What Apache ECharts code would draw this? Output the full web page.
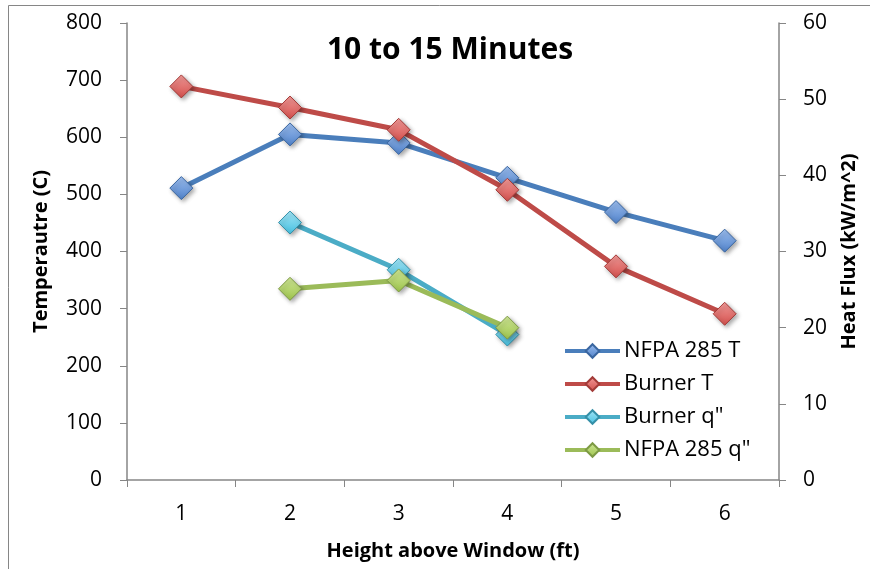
<!DOCTYPE html>
<html>
<head>
<meta charset="utf-8">
<script src="https://cdn.jsdelivr.net/npm/echarts@6/dist/echarts.min.js"></script>
<style>
  html, body { margin: 0; padding: 0; background: #fff; }
  #chart { width: 870px; height: 569px; }
</style>
</head>
<body>
<div id="chart"></div>
<script>
// Heights above the window (ft)
const heights = ['1', '2', '3', '4', '5', '6'];

// Temperatures (C), left axis
const nfpaT = [511, 605, 590, 529, 469, 419];
const burnerT = [689, 652, 613, 508, 374, 291];

// Heat flux (kW/m^2), right axis
const burnerQ = [null, 33.8, 27.6, 19.1, null, null];
const nfpaQ = [null, 25.1, 26.2, 20.0, null, null];

const FONT = '"Open Sans", "Noto Sans", sans-serif';
const AXIS_GREY = '#868686';

function grad(top, bottom) {
  return new echarts.graphic.LinearGradient(0, 0, 0, 1, [
    { offset: 0, color: top },
    { offset: 1, color: bottom }
  ]);
}

function lineSeries(name, data, yIdx, lineColor, fillTop, fillBottom, border) {
  return {
    name: name,
    type: 'line',
    yAxisIndex: yIdx,
    data: data,
    connectNulls: false,
    symbol: 'diamond',
    symbolSize: [23, 23],
    showAllSymbol: true,
    lineStyle: { color: lineColor, width: 5 },
    itemStyle: {
      color: grad(fillTop, fillBottom),
      borderColor: border,
      borderWidth: 1,
      shadowBlur: 4,
      shadowOffsetX: 2,
      shadowOffsetY: 2,
      shadowColor: 'rgba(0,0,0,0.35)'
    },
    emphasis: { disabled: true },
    animation: false
  };
}

const chart = echarts.init(document.getElementById('chart'), null, { renderer: 'canvas' });

chart.setOption({
  backgroundColor: '#fff',
  animation: false,
  title: {
    text: '10 to 15 Minutes',
    left: 445,
    top: 30,
    textAlign: 'center',
    textStyle: { fontFamily: FONT, fontWeight: 'bold', fontSize: 30, color: '#000' }
  },
  graphic: [{
    type: 'rect',
    shape: { x: 8.5, y: 5.5, width: 900, height: 600 },
    style: { fill: 'none', stroke: AXIS_GREY, lineWidth: 1 },
    silent: true
  }],
  legend: {
    orient: 'vertical',
    left: 563,
    top: 340,
    padding: 0,
    itemWidth: 55,
    itemHeight: 17,
    itemGap: 11,
    lineStyle: { width: 4 },
    textStyle: { fontFamily: FONT, fontSize: 22, color: '#000', padding: [0, 0, 0, -1] },
    data: ['NFPA 285 T', 'Burner T', 'Burner q"', 'NFPA 285 q"']
  },
  grid: { left: 127, right: 91, top: 23, bottom: 89, containLabel: false },
  xAxis: {
    type: 'category',
    data: heights,
    boundaryGap: true,
    name: 'Height above Window (ft)',
    nameLocation: 'middle',
    nameGap: 61,
    nameTextStyle: { fontFamily: FONT, fontWeight: 'bold', fontSize: 20, color: '#000' },
    axisLine: { lineStyle: { color: AXIS_GREY, width: 1.5 } },
    axisTick: { show: true, alignWithLabel: false, length: 7, lineStyle: { color: AXIS_GREY } },
    axisLabel: { fontFamily: FONT, fontSize: 21, color: '#000', margin: 24 },
    splitLine: { show: false }
  },
  yAxis: [{
    type: 'value',
    min: 0, max: 800, interval: 100,
    name: 'Temperautre (C)',
    nameLocation: 'middle',
    nameGap: 76,
    nameRotate: 90,
    nameTextStyle: { fontFamily: FONT, fontWeight: 'bold', fontSize: 20, color: '#000' },
    axisLine: { show: true, lineStyle: { color: AXIS_GREY, width: 1.5 } },
    axisTick: { show: true, length: 7, lineStyle: { color: AXIS_GREY } },
    axisLabel: { fontFamily: FONT, fontSize: 21, color: '#000', margin: 25 },
    splitLine: { show: false }
  }, {
    type: 'value',
    min: 0, max: 60, interval: 10,
    position: 'right',
    name: 'Heat Flux (kW/m^2)',
    nameLocation: 'middle',
    nameGap: 60,
    nameRotate: 90,
    nameTextStyle: { fontFamily: FONT, fontWeight: 'bold', fontSize: 20, color: '#000' },
    axisLine: { show: true, lineStyle: { color: AXIS_GREY, width: 1.5 } },
    axisTick: { show: true, length: 7, lineStyle: { color: AXIS_GREY } },
    axisLabel: { fontFamily: FONT, fontSize: 21, color: '#000', margin: 24 },
    splitLine: { show: false }
  }],
  series: [
    lineSeries('NFPA 285 T', nfpaT, 0, '#4a7ebb', '#9dbff0', '#4f81c9', '#3a66a0'),
    lineSeries('Burner T', burnerT, 0, '#be4b48', '#f29a98', '#d24f4c', '#a33b38'),
    lineSeries('Burner q"', burnerQ, 1, '#4bacc6', '#a5e6f7', '#45c0e0', '#3590a8'),
    lineSeries('NFPA 285 q"', nfpaQ, 1, '#9bbb59', '#cfe696', '#9dc44c', '#7d9a44')
  ]
});
</script>
</body>
</html>
